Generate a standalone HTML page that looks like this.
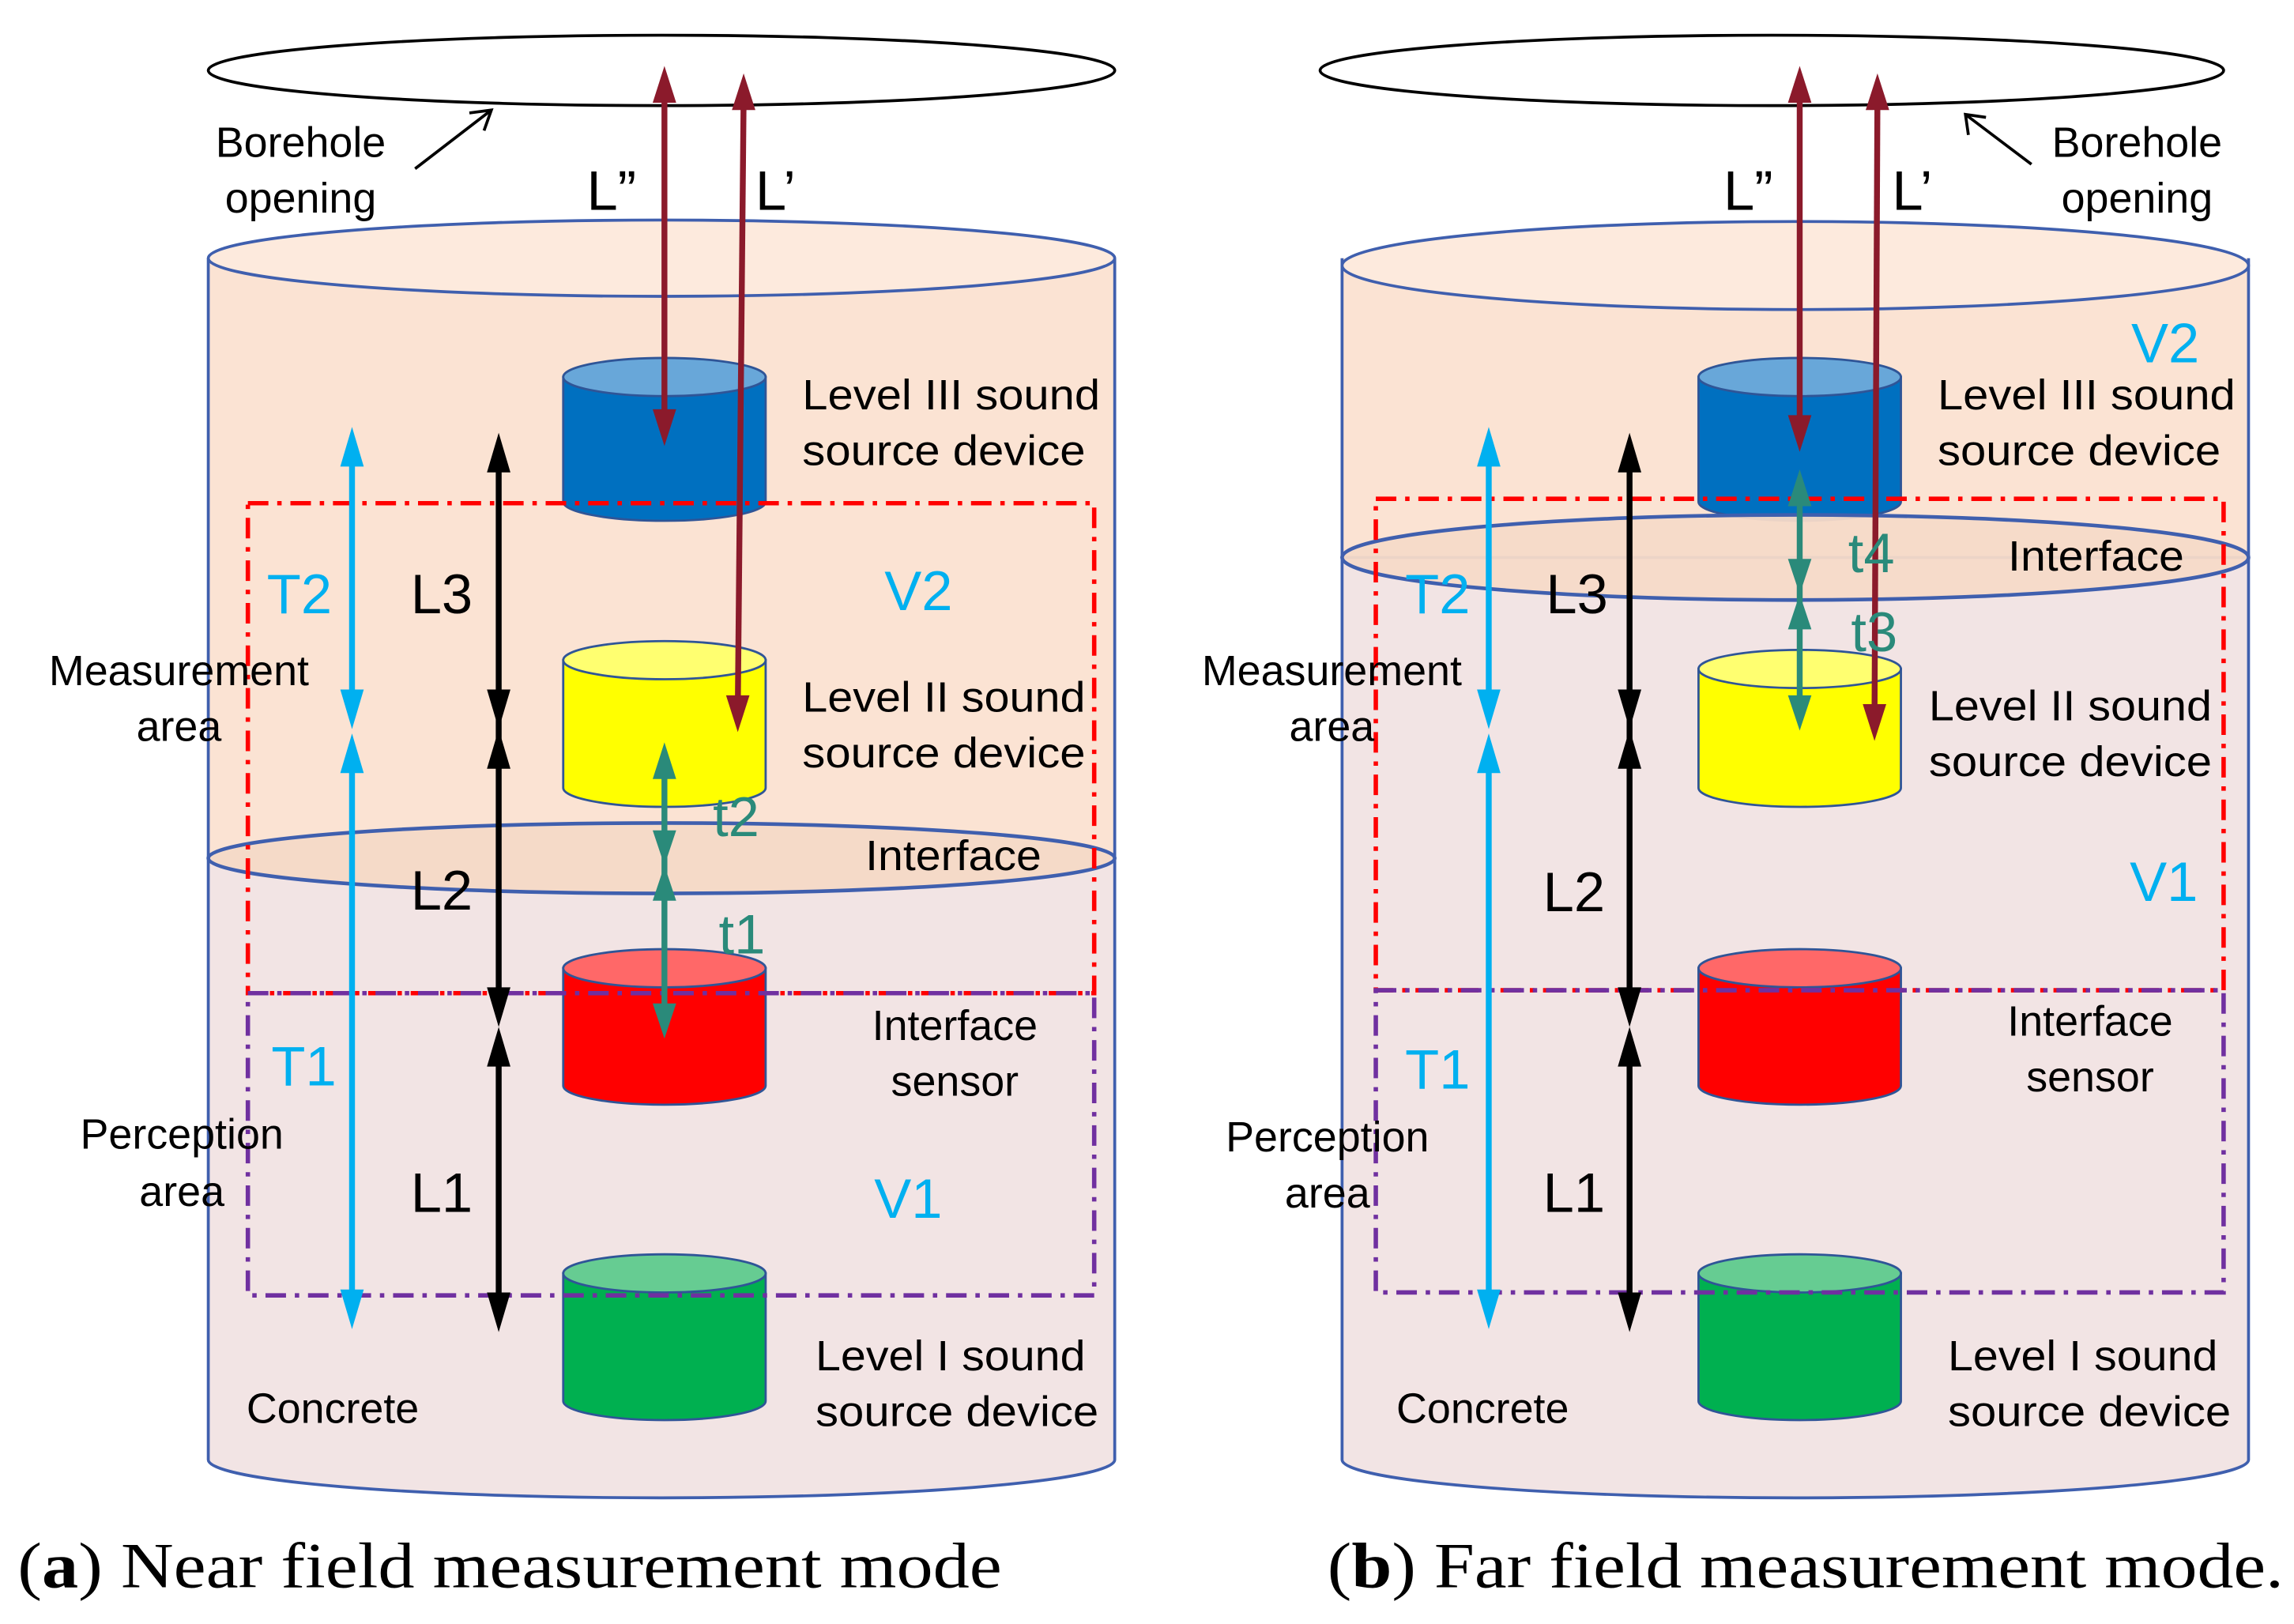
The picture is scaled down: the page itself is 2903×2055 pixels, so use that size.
<!DOCTYPE html>
<html><head><meta charset="utf-8"><style>
html,body{margin:0;padding:0;background:#fff;width:2903px;height:2055px;overflow:hidden}
svg{display:block}
text{font-family:"Liberation Sans",sans-serif}
.cap{font-family:"Liberation Serif",serif}
</style></head><body>
<svg width="2903" height="2055" viewBox="0 0 1564 1107" preserveAspectRatio="none" xmlns="http://www.w3.org/2000/svg">
<defs>
<g id="dev">
</g>
</defs>

<!-- ===== LEFT PANEL ===== -->
<g>
<ellipse cx="451" cy="48" rx="309" ry="24" fill="#fff" stroke="#000" stroke-width="2"/>
<path d="M142,176 L142,585 A309,24 0 0 0 760,585 L760,176 Z" fill="#fbe3d3"/>
<path d="M142,585 L142,995 A309,26 0 0 0 760,995 L760,585 Z" fill="#f2e4e4" stroke="#3f5fae" stroke-width="2"/>
<line x1="142" y1="176" x2="142" y2="585" stroke="#3f5fae" stroke-width="2"/>
<line x1="760" y1="176" x2="760" y2="585" stroke="#3f5fae" stroke-width="2"/>
<ellipse cx="451" cy="176" rx="309" ry="26" fill="#fdeadd" stroke="#3f5fae" stroke-width="2"/>
<ellipse cx="451" cy="585" rx="309" ry="24" fill="#f5dac8" stroke="#3f5fae" stroke-width="2.5"/>

<!-- devices -->
<path d="M384,257 L384,342 A69,13 0 0 0 522,342 L522,257 Z" fill="#0070c0" stroke="#2f5597" stroke-width="1.5"/>
<ellipse cx="453" cy="257" rx="69" ry="13" fill="#68a7d9" stroke="#2f5597" stroke-width="1.5"/>
<path d="M384,450 L384,537 A69,13 0 0 0 522,537 L522,450 Z" fill="#ffff00" stroke="#2f5597" stroke-width="1.5"/>
<ellipse cx="453" cy="450" rx="69" ry="13" fill="#ffff70" stroke="#2f5597" stroke-width="1.5"/>
<path d="M384,660 L384,740 A69,13 0 0 0 522,740 L522,660 Z" fill="#ff0000" stroke="#2f5597" stroke-width="1.5"/>
<ellipse cx="453" cy="660" rx="69" ry="13" fill="#ff6868" stroke="#2f5597" stroke-width="1.5"/>
<path d="M384,868 L384,955 A69,13 0 0 0 522,955 L522,868 Z" fill="#00b050" stroke="#2f5597" stroke-width="1.5"/>
<ellipse cx="453" cy="868" rx="69" ry="13" fill="#66cc92" stroke="#2f5597" stroke-width="1.5"/>

<!-- dashed rects -->
<rect x="169" y="343" width="577" height="334" fill="none" stroke="#ff0000" stroke-width="3" stroke-dasharray="14,6,3,6"/>
<rect x="169" y="677" width="577" height="206" fill="none" stroke="#7030a0" stroke-width="3" stroke-dasharray="14,6,3,6"/>

<!-- blue arrows -->
<g fill="#00b0f0" stroke="none">
<rect x="238" y="310" width="4" height="170"/>
<polygon points="240,291 232,318 248,318"/><polygon points="240,497 232,470 248,470"/>
<rect x="238" y="520" width="4" height="365"/>
<polygon points="240,500 232,527 248,527"/><polygon points="240,906 232,879 248,879"/>
</g>
<!-- black arrows -->
<g fill="#000">
<rect x="338" y="310" width="4" height="380"/>
<rect x="338" y="715" width="4" height="175"/>
<polygon points="340,295 332,322 348,322"/><polygon points="340,497 332,470 348,470"/>
<polygon points="340,497 332,524 348,524"/><polygon points="340,700 332,673 348,673"/>
<polygon points="340,700 332,727 348,727"/><polygon points="340,908 332,881 348,881"/>
</g>
<!-- dark red -->
<g fill="#8b1a2b" stroke="#8b1a2b">
<line x1="453" y1="60" x2="453" y2="290" stroke-width="4"/>
<polygon points="453,45 445,70 461,70" stroke="none"/><polygon points="453,304 445,279 461,279" stroke="none"/>
<line x1="507" y1="65" x2="503" y2="485" stroke-width="4"/>
<polygon points="507,50 499,75 515,75" stroke="none"/><polygon points="503,499 495,474 511,474" stroke="none"/>
</g>
<!-- teal -->
<g fill="#2a8a7a">
<rect x="451" y="520" width="4" height="175"/>
<polygon points="453,506 445,531 461,531"/><polygon points="453,590 445,566 461,566"/>
<polygon points="453,590 445,614 461,614"/><polygon points="453,708 445,684 461,684"/>
</g>
<!-- borehole arrow -->
<g stroke="#000" stroke-width="2" fill="none">
<line x1="283" y1="115" x2="335" y2="75"/>
<polyline points="320,77 335,75 330,89"/>
</g>

<g font-size="29" fill="#000">
<text x="205" y="107" text-anchor="middle">Borehole</text>
<text x="205" y="145" text-anchor="middle">opening</text>
<text x="547" y="279" textLength="203" lengthAdjust="spacingAndGlyphs">Level III sound</text>
<text x="547" y="317" textLength="193" lengthAdjust="spacingAndGlyphs">source device</text>
<text x="122" y="467" text-anchor="middle">Measurement</text>
<text x="122" y="505" text-anchor="middle">area</text>
<text x="547" y="485" textLength="193" lengthAdjust="spacingAndGlyphs">Level II sound</text>
<text x="547" y="523" textLength="193" lengthAdjust="spacingAndGlyphs">source device</text>
<text x="590" y="593" textLength="120" lengthAdjust="spacingAndGlyphs">Interface</text>
<text x="651" y="709" text-anchor="middle">Interface</text>
<text x="651" y="747" text-anchor="middle">sensor</text>
<text x="124" y="783" text-anchor="middle">Perception</text>
<text x="124" y="822" text-anchor="middle">area</text>
<text x="556" y="934" textLength="184" lengthAdjust="spacingAndGlyphs">Level I sound</text>
<text x="556" y="972" textLength="193" lengthAdjust="spacingAndGlyphs">source device</text>
<text x="168" y="970">Concrete</text>
</g>
<g font-size="38">
<text x="400" y="143" fill="#000">L”</text>
<text x="515" y="143" fill="#000">L’</text>
<text x="182" y="418" fill="#00b0f0">T2</text>
<text x="280" y="418" fill="#000">L3</text>
<text x="603" y="416" fill="#00b0f0">V2</text>
<text x="486" y="570" fill="#2a8a7a">t2</text>
<text x="280" y="620" fill="#000">L2</text>
<text x="490" y="650" fill="#2a8a7a">t1</text>
<text x="185" y="740" fill="#00b0f0">T1</text>
<text x="280" y="826" fill="#000">L1</text>
<text x="596" y="830" fill="#00b0f0">V1</text>
</g>
</g>

<!-- ===== RIGHT PANEL ===== -->
<g>
<ellipse cx="1208" cy="48" rx="308" ry="24" fill="#fff" stroke="#000" stroke-width="2"/>
<path d="M915,176 L915,380 A309,24 0 0 0 1533,380 L1533,176 Z" fill="#fbe3d3"/>
<path d="M915,380 L915,995 A309,26 0 0 0 1533,995 L1533,380 Z" fill="#f2e4e4" stroke="#3f5fae" stroke-width="2"/>
<line x1="915" y1="176" x2="915" y2="380" stroke="#3f5fae" stroke-width="2"/>
<line x1="1533" y1="176" x2="1533" y2="380" stroke="#3f5fae" stroke-width="2"/>
<ellipse cx="1224" cy="181" rx="309" ry="30" fill="#fdeadd" stroke="#3f5fae" stroke-width="2"/>

<path d="M1158,257 L1158,342 A69,13 0 0 0 1296,342 L1296,257 Z" fill="#0070c0" stroke="#2f5597" stroke-width="1.5"/>
<ellipse cx="1227" cy="257" rx="69" ry="13" fill="#68a7d9" stroke="#2f5597" stroke-width="1.5"/>
<ellipse cx="1224" cy="380" rx="309" ry="29" fill="#f5dac8" fill-opacity="0.95" stroke="#3f5fae" stroke-width="2.5"/>
<path d="M1158,456 L1158,537 A69,13 0 0 0 1296,537 L1296,456 Z" fill="#ffff00" stroke="#2f5597" stroke-width="1.5"/>
<ellipse cx="1227" cy="456" rx="69" ry="13" fill="#ffff70" stroke="#2f5597" stroke-width="1.5"/>
<path d="M1158,660 L1158,740 A69,13 0 0 0 1296,740 L1296,660 Z" fill="#ff0000" stroke="#2f5597" stroke-width="1.5"/>
<ellipse cx="1227" cy="660" rx="69" ry="13" fill="#ff6868" stroke="#2f5597" stroke-width="1.5"/>
<path d="M1158,868 L1158,955 A69,13 0 0 0 1296,955 L1296,868 Z" fill="#00b050" stroke="#2f5597" stroke-width="1.5"/>
<ellipse cx="1227" cy="868" rx="69" ry="13" fill="#66cc92" stroke="#2f5597" stroke-width="1.5"/>

<rect x="938" y="340" width="578" height="335" fill="none" stroke="#ff0000" stroke-width="3" stroke-dasharray="14,6,3,6"/>
<rect x="938" y="675" width="578" height="206" fill="none" stroke="#7030a0" stroke-width="3" stroke-dasharray="14,6,3,6"/>

<g fill="#00b0f0">
<rect x="1013" y="310" width="4" height="170"/>
<polygon points="1015,291 1007,318 1023,318"/><polygon points="1015,497 1007,470 1023,470"/>
<rect x="1013" y="520" width="4" height="365"/>
<polygon points="1015,500 1007,527 1023,527"/><polygon points="1015,906 1007,879 1023,879"/>
</g>
<g fill="#000">
<rect x="1109" y="310" width="4" height="380"/>
<rect x="1109" y="715" width="4" height="175"/>
<polygon points="1111,295 1103,322 1119,322"/><polygon points="1111,497 1103,470 1119,470"/>
<polygon points="1111,497 1103,524 1119,524"/><polygon points="1111,700 1103,673 1119,673"/>
<polygon points="1111,700 1103,727 1119,727"/><polygon points="1111,908 1103,881 1119,881"/>
</g>
<g fill="#8b1a2b" stroke="#8b1a2b">
<line x1="1227" y1="60" x2="1227" y2="295" stroke-width="4"/>
<polygon points="1227,45 1219,70 1235,70" stroke="none"/><polygon points="1227,308 1219,283 1235,283" stroke="none"/>
<line x1="1280" y1="65" x2="1278" y2="490" stroke-width="4"/>
<polygon points="1280,50 1272,75 1288,75" stroke="none"/><polygon points="1278,505 1270,480 1286,480" stroke="none"/>
</g>
<g fill="#2a8a7a">
<rect x="1225" y="335" width="4" height="150"/>
<polygon points="1227,320 1219,345 1235,345"/><polygon points="1227,405 1219,381 1235,381"/>
<polygon points="1227,405 1219,429 1235,429"/><polygon points="1227,498 1219,474 1235,474"/>
</g>
<g stroke="#000" stroke-width="2" fill="none">
<line x1="1385" y1="112" x2="1340" y2="78"/>
<polyline points="1342,92 1340,78 1354,80"/>
</g>

<g font-size="29" fill="#000">
<text x="1457" y="107" text-anchor="middle">Borehole</text>
<text x="1457" y="145" text-anchor="middle">opening</text>
<text x="1321" y="279" textLength="203" lengthAdjust="spacingAndGlyphs">Level III sound</text>
<text x="1321" y="317" textLength="193" lengthAdjust="spacingAndGlyphs">source device</text>
<text x="1369" y="389" textLength="120" lengthAdjust="spacingAndGlyphs">Interface</text>
<text x="908" y="467" text-anchor="middle">Measurement</text>
<text x="908" y="505" text-anchor="middle">area</text>
<text x="1315" y="491" textLength="193" lengthAdjust="spacingAndGlyphs">Level II sound</text>
<text x="1315" y="529" textLength="193" lengthAdjust="spacingAndGlyphs">source device</text>
<text x="1425" y="706" text-anchor="middle">Interface</text>
<text x="1425" y="744" text-anchor="middle">sensor</text>
<text x="905" y="785" text-anchor="middle">Perception</text>
<text x="905" y="823" text-anchor="middle">area</text>
<text x="1328" y="934" textLength="184" lengthAdjust="spacingAndGlyphs">Level I sound</text>
<text x="1328" y="972" textLength="193" lengthAdjust="spacingAndGlyphs">source device</text>
<text x="952" y="970">Concrete</text>
</g>
<g font-size="38">
<text x="1175" y="143" fill="#000">L”</text>
<text x="1290" y="143" fill="#000">L’</text>
<text x="1453" y="247" fill="#00b0f0">V2</text>
<text x="1260" y="390" fill="#2a8a7a">t4</text>
<text x="958" y="418" fill="#00b0f0">T2</text>
<text x="1054" y="418" fill="#000">L3</text>
<text x="1262" y="444" fill="#2a8a7a">t3</text>
<text x="1452" y="614" fill="#00b0f0">V1</text>
<text x="1052" y="621" fill="#000">L2</text>
<text x="958" y="742" fill="#00b0f0">T1</text>
<text x="1052" y="826" fill="#000">L1</text>
</g>
</g>

<!-- captions -->
<text class="cap" x="12" y="1082" font-size="44" textLength="671" lengthAdjust="spacingAndGlyphs">(<tspan font-weight="bold">a</tspan>) Near field measurement mode</text>
<text class="cap" x="905" y="1082" font-size="44" textLength="652" lengthAdjust="spacingAndGlyphs">(<tspan font-weight="bold">b</tspan>) Far field measurement mode.</text>
</svg>
</body></html>
